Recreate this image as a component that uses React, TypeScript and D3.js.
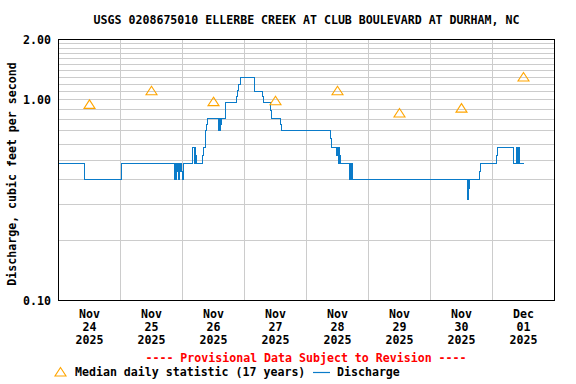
import React from "react";
import * as d3 from "d3";

const title = "USGS 0208675010 ELLERBE CREEK AT CLUB BOULEVARD AT DURHAM, NC";
const yLabel = "Discharge, cubic feet per second";
const provisional = "---- Provisional Data Subject to Revision ----";
const legendMedian = "Median daily statistic (17 years)";
const legendFlow = "Discharge";

const yTickValues = [0.1, 1.0, 2.0];
const yGridValues = [0.2, 0.3, 0.4, 0.5, 0.6, 0.7, 0.8, 0.9, 1.0, 1.1, 1.2, 1.3, 1.4, 1.5, 1.6, 1.7, 1.8, 1.9];
const dayLabels = ["2025-11-24", "2025-11-25", "2025-11-26", "2025-11-27", "2025-11-28", "2025-11-29", "2025-11-30", "2025-12-01"];

const medianDates = ["2025-11-24 12:00", "2025-11-25 12:00", "2025-11-26 12:00", "2025-11-27 12:00", "2025-11-28 12:00", "2025-11-29 12:00", "2025-11-30 12:00", "2025-12-01 12:00"];
const medianValues = [0.95, 1.11, 0.98, 0.99, 1.11, 0.86, 0.91, 1.30];

const flowTimes = [
  "2025-11-24 00:00", "2025-11-24 10:00", "2025-11-25 00:30", "2025-11-25 21:00", "2025-11-25 21:30",
  "2025-11-25 21:45", "2025-11-25 22:00", "2025-11-25 22:15", "2025-11-25 22:30", "2025-11-25 22:45",
  "2025-11-25 23:00", "2025-11-25 23:15", "2025-11-25 23:30", "2025-11-25 23:45", "2025-11-26 00:00",
  "2025-11-26 00:15", "2025-11-26 04:00", "2025-11-26 04:30", "2025-11-26 04:45", "2025-11-26 05:00",
  "2025-11-26 05:15", "2025-11-26 07:45", "2025-11-26 08:00", "2025-11-26 08:45", "2025-11-26 09:15",
  "2025-11-26 09:45", "2025-11-26 14:00", "2025-11-26 14:15", "2025-11-26 14:30", "2025-11-26 14:45",
  "2025-11-26 15:00", "2025-11-26 16:45", "2025-11-26 21:00", "2025-11-26 21:15", "2025-11-26 21:45",
  "2025-11-26 22:30", "2025-11-27 04:00", "2025-11-27 07:00", "2025-11-27 07:15", "2025-11-27 10:00",
  "2025-11-27 10:30", "2025-11-27 14:00", "2025-11-27 14:15", "2025-11-28 09:15", "2025-11-28 09:45",
  "2025-11-28 11:45", "2025-11-28 12:00", "2025-11-28 12:15", "2025-11-28 12:30", "2025-11-28 12:45",
  "2025-11-28 13:00", "2025-11-28 16:30", "2025-11-28 16:45", "2025-11-28 17:00", "2025-11-28 17:15",
  "2025-11-28 17:30", "2025-11-28 17:45", "2025-11-30 14:30", "2025-11-30 14:45", "2025-11-30 15:00",
  "2025-11-30 15:15", "2025-11-30 19:00", "2025-11-30 19:15", "2025-12-01 01:30", "2025-12-01 02:00",
  "2025-12-01 08:15", "2025-12-01 09:30", "2025-12-01 09:45", "2025-12-01 10:15", "2025-12-01 10:30",
  "2025-12-01 12:00",
];
const flowValues = [
  0.48, 0.40, 0.48, 0.40, 0.48,
  0.44, 0.48, 0.44, 0.40, 0.44,
  0.48, 0.44, 0.48, 0.44, 0.40,
  0.48, 0.58, 0.48, 0.58, 0.53,
  0.48, 0.53, 0.58, 0.70, 0.75,
  0.81, 0.70, 0.81, 0.70, 0.75,
  0.81, 0.97, 1.04, 1.12, 1.19,
  1.29, 1.10, 1.04, 0.97, 0.89,
  0.81, 0.75, 0.70, 0.64, 0.58,
  0.53, 0.58, 0.48, 0.58, 0.53,
  0.48, 0.40, 0.48, 0.44, 0.40,
  0.48, 0.40, 0.32, 0.40, 0.36,
  0.40, 0.44, 0.48, 0.53, 0.58,
  0.48, 0.58, 0.48, 0.58, 0.48,
  0.48,
];

const W = 576, H = 384;
const L = 58.5, R = 554.5, T = 39.5, B = 300.5;
const FONT = "'DejaVu Sans Mono', monospace";
const FS = 11.6;
const BLUE = "#0a7bc9";
const ORANGE = "#ffa500";
const GRID = "#cccccc";

const parseT = d3.timeParse("%Y-%m-%d %H:%M");
const parseD = d3.timeParse("%Y-%m-%d");

function tri(x: number, y: number) {
  return `M${x},${y - 4.5}L${x + 5.5},${y + 4}L${x - 5.5},${y + 4}Z`;
}

export default function App() {
  const x = d3.scaleTime()
    .domain([parseT("2025-11-24 00:00")!, parseT("2025-12-02 00:00")!])
    .range([L, R]);
  const y = d3.scaleLog().domain([0.1, 2]).range([B, T]);
  const snap = (v: number) => Math.round(v - 0.5) + 0.5;

  const dayLines = d3.timeDay.range(parseT("2025-11-25 00:00")!, parseT("2025-12-02 00:00")!);
  const flowData = flowTimes.map((t, i) => ({ t: parseT(t)!, v: flowValues[i] }));
  const line = d3.line<{ t: Date; v: number }>()
    .x(d => x(d.t))
    .y(d => snap(y(d.v)))
    .curve(d3.curveStepAfter);

  const fmtM = d3.timeFormat("%b");
  const fmtD = d3.timeFormat("%d");
  const fmtY = d3.timeFormat("%Y");
  const txt = { fontFamily: FONT, fontWeight: "bold" as const, fontSize: FS };

  return (
    <svg width={W} height={H} style={{ position: "absolute", left: 0, top: 0, background: "#fff" }}>
      <rect x={0} y={0} width={W} height={H} fill="#fff" />
      <text x={306.5} y={24} textAnchor="middle" {...txt} fill="#000">{title}</text>
      <g shapeRendering="crispEdges">
        {yGridValues.map(v => (
          <line key={"h" + v} x1={L} x2={R} y1={snap(y(v))} y2={snap(y(v))} stroke={GRID} strokeWidth={1} />
        ))}
        {dayLines.map(d => (
          <line key={"v" + d.getTime()} x1={snap(x(d))} x2={snap(x(d))} y1={T} y2={B} stroke={GRID} strokeWidth={1} />
        ))}
      </g>
      <path d={line(flowData) || ""} fill="none" stroke={BLUE} strokeWidth={1.2} shapeRendering="crispEdges" />
      {medianDates.map((d, i) => (
        <path key={"m" + i} d={tri(x(parseT(d)!), y(medianValues[i]))} fill="none" stroke={ORANGE} strokeWidth={1.1} />
      ))}
      <rect x={L} y={T} width={R - L} height={B - T} fill="none" stroke="#000" strokeWidth={1} shapeRendering="crispEdges" />
      {yTickValues.map(v => (
        <text key={"yt" + v} x={51} y={y(v) + 4} textAnchor="end" {...txt} fill="#000">{v.toFixed(2)}</text>
      ))}
      <text transform={`translate(16,174) rotate(-90)`} textAnchor="middle" {...txt} fill="#000">{yLabel}</text>
      {dayLabels.map(s => {
        const d = parseD(s)!;
        const cx = x(d3.timeHour.offset(d, 12));
        return (
          <g key={"xl" + s}>
            <text x={cx} y={318} textAnchor="middle" {...txt}>{fmtM(d)}</text>
            <text x={cx} y={331} textAnchor="middle" {...txt}>{fmtD(d)}</text>
            <text x={cx} y={344} textAnchor="middle" {...txt}>{fmtY(d)}</text>
          </g>
        );
      })}
      <text x={306} y={362} textAnchor="middle" {...txt} fill="#ff0000">{provisional}</text>
      <path d={tri(60.5, 372)} fill="none" stroke={ORANGE} strokeWidth={1.1} />
      <text x={75} y={376} {...txt}>{legendMedian}</text>
      <line x1={313} x2={330} y1={372.5} y2={372.5} stroke={BLUE} strokeWidth={1.2} />
      <text x={337} y={376} {...txt}>{legendFlow}</text>
    </svg>
  );
}
